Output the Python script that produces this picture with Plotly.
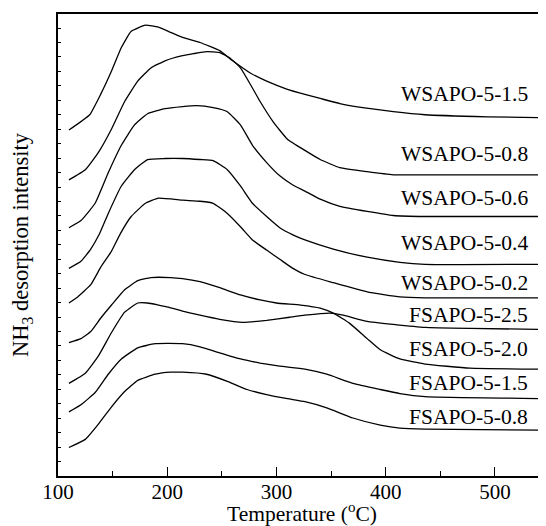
import plotly.graph_objects as go

# NH3-TPD profiles, stacked (arbitrary intensity units)
w15_t = [110, 129, 139, 149, 158, 167, 180, 192, 203, 214, 230, 248, 260, 276, 291, 310, 326, 340, 358, 379, 407, 436, 493, 546]
w15_i = [340, 355, 375, 398, 421, 437, 443, 441, 436, 431, 426, 418, 408, 396, 388, 380, 375, 371, 366, 362, 358, 355, 353, 352]

w08_t = [110, 125, 137, 149, 161, 173, 185, 198, 214, 224, 236, 248, 257, 267, 276, 285, 297, 310, 326, 340, 358, 383, 407, 436, 546]
w08_i = [291, 301, 318, 341, 368, 388, 401, 408, 413, 415, 417, 416, 411, 401, 385, 368, 348, 331, 320, 311, 303, 299, 296, 296, 296]

w06_t = [110, 121, 134, 146, 158, 170, 182, 198, 214, 227, 242, 255, 267, 278, 291, 303, 315, 326, 340, 358, 383, 407, 436, 546]
w06_i = [244, 251, 268, 298, 325, 345, 356, 361, 363, 364, 362, 358, 345, 325, 308, 295, 286, 280, 272, 265, 260, 256, 255, 255]

w04_t = [110, 121, 130, 138, 146, 158, 170, 182, 198, 214, 230, 242, 255, 267, 278, 291, 303, 315, 326, 352, 383, 413, 436, 546]
w04_i = [204, 211, 223, 238, 258, 285, 301, 311, 312, 312, 311, 310, 301, 285, 268, 255, 244, 237, 232, 223, 215, 210, 208, 208]

w02_t = [110, 118, 130, 139, 149, 157, 167, 180, 192, 214, 230, 242, 255, 267, 278, 291, 303, 315, 326, 352, 383, 413, 436, 546]
w02_i = [170, 176, 188, 205, 221, 238, 255, 268, 273, 271, 270, 268, 258, 245, 232, 222, 213, 204, 198, 190, 181, 176, 175, 175]

f25_t = [110, 125, 137, 149, 161, 173, 182, 192, 201, 214, 230, 248, 269, 291, 312, 326, 349, 361, 383, 407, 436, 477, 546]
f25_i = [91, 101, 118, 141, 161, 170, 170, 168, 166, 162, 158, 154, 151, 153, 156, 158, 160, 158, 152, 149, 146, 145, 144]

f20_t = [110, 121, 130, 139, 149, 161, 173, 185, 203, 214, 230, 248, 267, 285, 300, 322, 340, 352, 367, 383, 395, 413, 436, 477, 544]
f20_i = [131, 135, 142, 155, 168, 183, 192, 195, 195, 194, 191, 185, 178, 173, 170, 168, 165, 160, 150, 135, 124, 115, 110, 106, 105]

f15_t = [110, 121, 134, 146, 158, 173, 189, 214, 230, 248, 267, 285, 303, 326, 346, 370, 395, 413, 436, 546]
f15_i = [63, 70, 82, 100, 115, 126, 130, 130, 127, 121, 115, 111, 108, 105, 100, 91, 85, 81, 78, 76]

f08_t = [110, 125, 137, 149, 161, 173, 189, 203, 214, 236, 255, 273, 291, 310, 326, 346, 370, 395, 413, 436, 546]
f08_i = [28, 36, 51, 68, 83, 94, 100, 102, 102, 100, 93, 85, 80, 76, 73, 67, 57, 50, 47, 46, 45]

names = ["WSAPO-5-1.5", "WSAPO-5-0.8", "WSAPO-5-0.6", "WSAPO-5-0.4", "WSAPO-5-0.2",
         "FSAPO-5-2.5", "FSAPO-5-2.0", "FSAPO-5-1.5", "FSAPO-5-0.8"]
temps = [w15_t, w08_t, w06_t, w04_t, w02_t, f25_t, f20_t, f15_t, f08_t]
intens = [w15_i, w08_i, w06_i, w04_i, w02_i, f25_i, f20_i, f15_i, f08_i]
label_y = [375, 316, 273, 229, 190, 158, 125, 91, 58]

serif = "Liberation Serif, Times New Roman, serif"

fig = go.Figure()
for name, t, i in zip(names, temps, intens):
    fig.add_trace(go.Scatter(x=t, y=i, mode="lines", name=name,
                             line=dict(color="black", width=1.3, shape="spline", smoothing=0.4)))

for name, y in zip(names, label_y):
    fig.add_annotation(x=532, y=y, text=name, showarrow=False, xanchor="right",
                       yanchor="middle", font=dict(family=serif, size=21.5, color="black"))

# page body has an 8px margin, so the figure is 8px smaller and margins shifted
fig.update_layout(
    width=538, height=518,
    margin=dict(l=50, r=0, t=6, b=50, autoexpand=False),
    paper_bgcolor="white", plot_bgcolor="white",
    showlegend=False,
    font=dict(family=serif, size=21, color="black"),
)
fig.update_xaxes(
    range=[100, 546.7], showgrid=False, zeroline=False, automargin=False,
    showline=True, linecolor="black", linewidth=1.5, mirror=True,
    ticks="inside", ticklen=9, tickwidth=1, tickcolor="black",
    tick0=100, dtick=100, ticklabelstandoff=-4,
    minor=dict(ticks="inside", ticklen=5, tickwidth=1, tickcolor="black", dtick=50, tick0=100),
    title=dict(text="Temperature (<sup>o</sup>C)", font=dict(size=21.5), standoff=2),
    tickfont=dict(size=21),
)
fig.update_yaxes(
    range=[0, 454], showgrid=False, zeroline=False, automargin=False,
    showline=True, linecolor="black", linewidth=1.5, mirror=False,
    ticks="inside", ticklen=3, tickwidth=1, tickcolor="black",
    tick0=0, dtick=14.2, showticklabels=False,
    title=dict(text="NH<sub>3</sub> desorption intensity", font=dict(size=22.5), standoff=24),
)

fig.write_html("out.html")
